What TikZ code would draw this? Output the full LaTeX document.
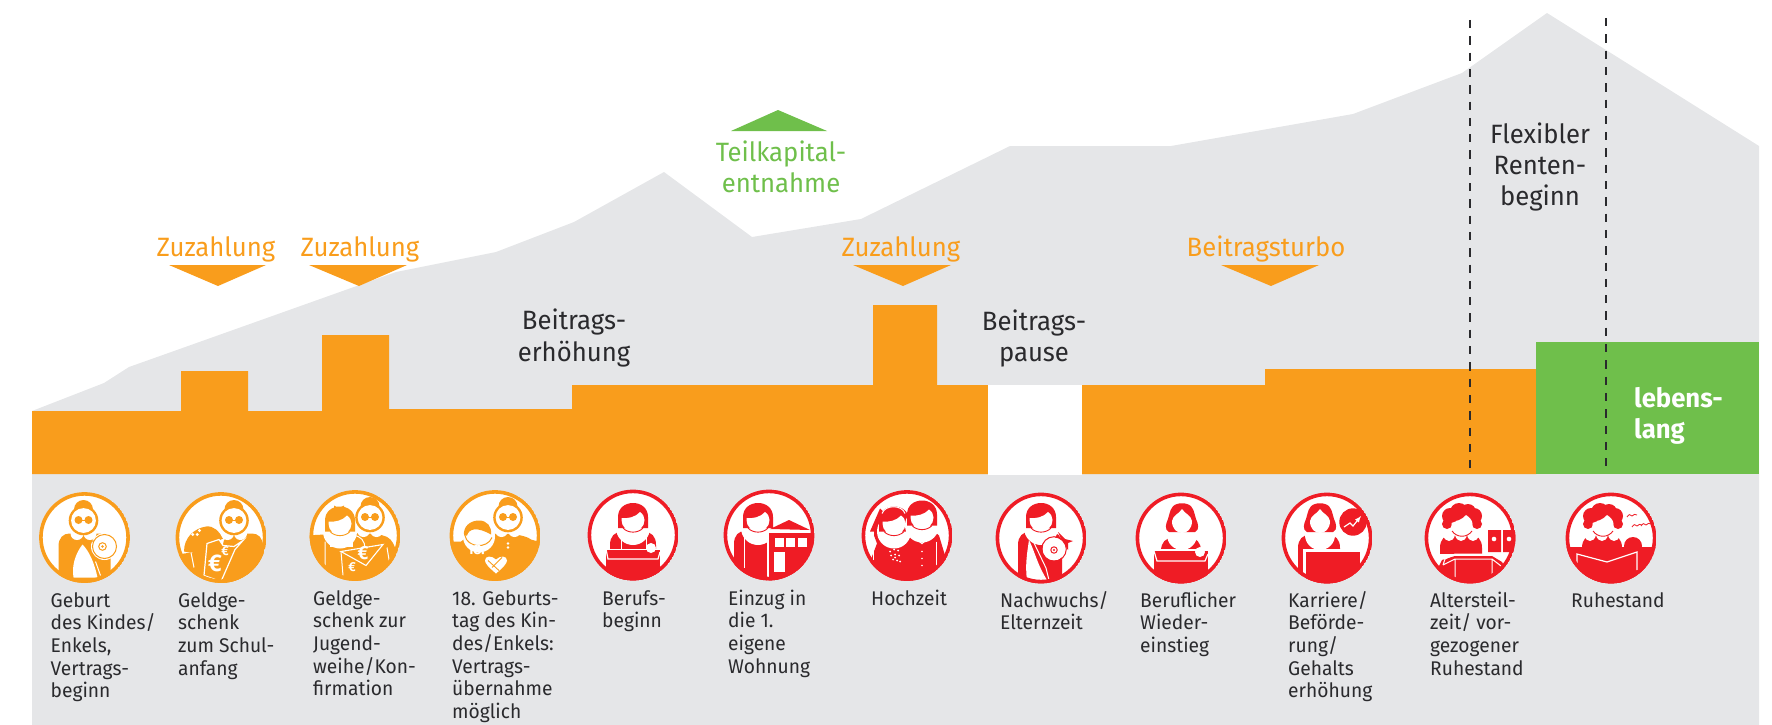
\documentclass[tikz,border=0pt]{standalone}
\usepackage{fontspec}
\setmainfont[FakeStretch=0.97]{Fira Sans}
\definecolor{orangeC}{HTML}{F99D1C}
\definecolor{greenC}{HTML}{6FBF4B}
\definecolor{redC}{HTML}{EF1C25}
\definecolor{grayC}{HTML}{E5E6E8}
\definecolor{inkC}{HTML}{2A2A2D}
\tikzset{
    bigtext/.style={font=\fontsize{26.5}{31.5}\selectfont, align=center, inner sep=0pt, text=inkC},
    captext/.style={font=\fontsize{19.8}{22.7}\selectfont, align=left, inner sep=0pt, anchor=base west, text=inkC},
    whiteline/.style={white, line width=1pt},
    euro/.style={text=white, inner sep=0pt, font=\bfseries\fontsize{#1}{#1}\selectfont},
}
\newcommand{\iconback}{\fill[white] (0,0) circle (45); \clip (0,0) circle (45.4);}
\newcommand{\iconring}{\draw[ic, line width=3.6pt] (0,0) circle (43.6);}
\newcommand{\bodyfill}[3]{% centre x, top y, half width
    \fill[ic] (#1-#3, 60) -- (#1-#3, #2+13) .. controls (#1-#3, #2+4) and (#1-#3+5, #2) .. (#1-#3+11, #2)
        -- (#1+#3-11, #2) .. controls (#1+#3-5, #2) and (#1+#3, #2+4) .. (#1+#3, #2+13) -- (#1+#3, 60) -- cycle;}
\newcommand{\glassface}[2]{%
    \begin{scope}[shift={(#1,#2)}]
        \fill[ic] (0,-11) circle (9.5);
        \fill[white] (-6.5,13) circle (6.5) (6.5,13) circle (6.5);
        \fill[ic] (0,0) circle (14.8);
        \fill[white] (0,0) circle (12.4);
        \fill[ic] (-5,-0.5) circle (4) (5,-0.5) circle (4);
        \draw[ic, line width=1pt] (-5,-0.5) -- (5,-0.5);
    \end{scope}}
\newcommand{\bobface}[2]{%
    \begin{scope}[shift={(#1,#2)}]
        \fill[white] (0,9) circle (17);
        \fill[ic] (-15,9) -- (-15,-2) .. controls (-15,-11) and (-8,-16) .. (0,-16) .. controls (8,-16) and (15,-11) .. (15,-2) -- (15,9) -- cycle;
        \fill[white] (-11.5,-1) .. controls (-6,0) and (3,-2) .. (7,-7) .. controls (10,-5) and (11.5,-2) .. (11.5,1)
            .. controls (11.5,8) and (6,12) .. (0,12) .. controls (-6,12) and (-11.5,8) .. (-11.5,1) -- cycle;
        \draw[ic, line width=0.9pt] (-10,9) .. controls (-5,14.5) and (5,14.5) .. (10,9);
    \end{scope}}
\newcommand{\waveface}[2]{%
    \begin{scope}[shift={(#1,#2)}]
        \fill[white] (0,14) circle (15);
        \fill[ic] (-13,11) .. controls (-18,9) and (-16,2) .. (-14,-2) .. controls (-12,-8) and (-12,-15) .. (-5,-17)
            .. controls (-2,-18) and (2,-18) .. (5,-17) .. controls (12,-15) and (12,-8) .. (14,-2)
            .. controls (16,2) and (18,9) .. (13,11) -- cycle;
        \fill[white] (0,-12) .. controls (-3,-7) and (-9,-6) .. (-10,0) .. controls (-10,8) and (-5,12) .. (0,12)
            .. controls (5,12) and (10,8) .. (10,0) .. controls (9,-6) and (3,-7) .. (0,-12) -- cycle;
    \end{scope}}
\newcommand{\curlyface}[2]{%
    \begin{scope}[shift={(#1,#2)}]
        \foreach \hx/\hy/\hr in {-12/-8/8, 12/-8/8, -3/-12/9, 6/-12/8, -15/0/5, 15/0/5}{
            \fill[ic] (\hx,\hy) circle (\hr);
        }
        \fill[white] (-10.5,-1) .. controls (-5,-3) and (1,-5) .. (4,-9) .. controls (7,-7) and (10.5,-4) .. (10.5,0)
            .. controls (10.5,7) and (5,11) .. (0,11) .. controls (-5,11) and (-10.5,7) .. (-10.5,0) -- cycle;
        \draw[ic, line width=0.9pt] (-10,7) .. controls (-5,14) and (5,14) .. (10,7);
    \end{scope}}
\newcommand{\scallops}[3]{% collar bumps of the older figures
    \foreach \sx in {-18, -6, 6}{
        \fill[white] (#1+\sx,#2) .. controls (#1+\sx+2,#2+#3) and (#1+\sx+10,#2+#3) .. (#1+\sx+12,#2) -- cycle;
    }}
\begin{document}
\begin{tikzpicture}[x=1pt, y=-1pt]
    \useasboundingbox (0,0) rectangle (1772,725);
    \fill[grayC] (32,411) -- (104,383) -- (129,367) -- (160,356) -- (396,272) -- (496,252) -- (574,222)
        -- (664,172) -- (752,237) -- (861,219) -- (1010,146) -- (1171,146) -- (1353,114) -- (1462,73)
        -- (1547,13) -- (1759,146) -- (1759,725) -- (32,725) -- cycle;
    \fill[orangeC] (32,474) -- (32,411) -- (181,411) -- (181,371) -- (248,371) -- (248,411) -- (322,411)
        -- (322,335) -- (389,335) -- (389,409) -- (572,409) -- (572,385) -- (873,385) -- (873,305)
        -- (937,305) -- (937,385) -- (988,385) -- (988,474) -- cycle;
    \fill[orangeC] (1082,474) -- (1082,385) -- (1265,385) -- (1265,369) -- (1536,369) -- (1536,474) -- cycle;
    \fill[white] (988,384.5) rectangle (1082,475);
    \fill[greenC] (1536,342) rectangle (1759,473.5);
    \foreach \xa/\xb/\xt in {169/266/218, 309/407/359, 853/951/903, 1221/1319/1271}{
        \fill[orangeC] (\xa,265) -- (\xb,265) -- (\xt,286) -- cycle;
    }
    \fill[greenC] (731,131) -- (827,131) -- (778,110) -- cycle;

    \coordinate (flexlefttop) at (1470,20);
    \coordinate (flexleftend) at (1470,473);
    \coordinate (flexrighttop) at (1606,18);
    \coordinate (flexrightend) at (1606,473);
    \draw[inkC, line width=1.9pt, dash pattern=on 8.3pt off 8pt] (flexlefttop) -- (flexleftend);
    \draw[inkC, line width=1.9pt, dash pattern=on 8.3pt off 8pt] (flexrighttop) -- (flexrightend);

    \node[bigtext, text=orangeC, anchor=base] (zuzahlungA) at (216,256) {Zuzahlung};
    \node[bigtext, text=orangeC, anchor=base] (zuzahlungB) at (360,256) {Zuzahlung};
    \node[bigtext, text=orangeC, anchor=base] (zuzahlungC) at (901,256) {Zuzahlung};
    \node[bigtext, text=orangeC, anchor=base] (turbo) at (1266,256) {Beitragsturbo};
    \node[bigtext, text=greenC, anchor=base] (teilA) at (781,161) {Teilkapital-};
    \node[bigtext, text=greenC, anchor=base] (teilB) at (781,192) {entnahme};
    \node[bigtext, anchor=base] (erhoehA) at (574,329) {Beitrags-};
    \node[bigtext, anchor=base] (erhoehB) at (574,361) {erhöhung};
    \node[bigtext, anchor=base] (pauseA) at (1034,330) {Beitrags-};
    \node[bigtext, anchor=base] (pauseB) at (1034,361) {pause};
    \node[bigtext, anchor=base] (flexA) at (1540,143) {Flexibler};
    \node[bigtext, anchor=base] (flexB) at (1540,174) {Renten-};
    \node[bigtext, anchor=base] (flexC) at (1540,205) {beginn};
    \node[bigtext, text=white, anchor=base west, font=\bfseries\fontsize{26.5}{31}\selectfont] (lebensA) at (1634,407) {lebens-};
    \node[bigtext, text=white, anchor=base west, font=\bfseries\fontsize{26.5}{31}\selectfont] (lebensB) at (1634,438) {lang};

    \node[captext] (capA) at (50.5,697.8) {Geburt\\des Kindes/\\Enkels,\\Vertrags-\\beginn};
    \node[captext] (capB) at (178,675.1) {Geldge-\\schenk\\zum Schul-\\anfang};
    \node[captext] (capC) at (313,695.8) {Geldge-\\schenk zur\\Jugend-\\weihe/Kon-\\firmation};
    \node[captext] (capD) at (452,718.5) {18. Geburts-\\tag des Kin-\\des/Enkels:\\Vertrags-\\übernahme\\möglich};
    \node[captext] (capE) at (602,627.7) {Berufs-\\beginn};
    \node[captext] (capF) at (728,673.1) {Einzug in\\die 1.\\eigene\\Wohnung};
    \node[captext] (capG) at (871,605) {Hochzeit};
    \node[captext] (capH) at (1000,629.7) {Nachwuchs/\\Elternzeit};
    \node[captext] (capI) at (1140,652.4) {Beruflicher\\Wieder-\\einstieg};
    \node[captext] (capJ) at (1288,697.8) {Karriere/\\Beförde-\\rung/\\Gehalts\\erhöhung};
    \node[captext] (capK) at (1430,675.1) {Altersteil-\\zeit/ vor-\\gezogener\\Ruhestand};
    \node[captext] (capL) at (1571,607) {Ruhestand};

    \begin{scope}[shift={(84.5,537.5)}]
        \colorlet{ic}{orangeC}
        \iconback
        \bodyfill{0}{-4}{26}
        \fill[white] (-2,7) .. controls (-9,16) and (-13,28) .. (-11,40) -- (13,40) .. controls (10,26) and (5,14) .. (-2,7) -- cycle;
        \draw[whiteline] (11,24) -- (16,38);
        \glassface{-1}{-17}
        \fill[white] (20,9) circle (13.5);
        \draw[ic, line width=1pt] (20,9) circle (12);
        \draw[ic, line width=1pt] (18,9) circle (3.8);
        \fill[ic] (18,9) circle (1.3);
        \draw[ic, line width=1pt] (0,8) -- (9,3);
        \iconring
    \end{scope}
    \begin{scope}[shift={(221,537.5)}]
        \colorlet{ic}{orangeC}
        \iconback
        \bodyfill{22}{-4}{20}
        \fill[ic] (-50,18) -- (-30,15) -- (50,15) -- (50,60) -- (-50,60) -- cycle;
        \fill[ic] (-37,14) .. controls (-37,0) and (-27,-9) .. (-15,-11) .. controls (-7,-12) and (-2,-6) .. (2,1)
            -- (-12,8) -- (-14,16) .. controls (-22,15) and (-30,16) .. (-37,14) -- cycle;
        \foreach \fa in {0, 60, ..., 300}{
            \fill[white] (-26,-7) ++(\fa:4.5) circle (1.6);
        }
        \draw[whiteline] (-30,15) -- (-27,30);
        \glassface{13}{-17}
        \fill[ic, draw=white, line width=1.2pt] (-14,6) -- (-2,2) -- (2,8) -- (13,9) -- (22,3) -- (14,12) -- (0,44) -- (-17,38) -- cycle;
        \node[euro=24] (euroB) at (-6,26) {€};
        \node[euro=13] (euroBs) at (4,14) {€};
        \iconring
    \end{scope}
    \begin{scope}[shift={(355,535.5)}]
        \colorlet{ic}{orangeC}
        \iconback
        \fill[ic] (-50,60) -- (-50,0) -- (-30,-1) .. controls (-20,-3) and (20,-3) .. (28,0) .. controls (34,1) and (38,6) .. (40,12) -- (50,60) -- cycle;
        \fill[white] (-25,0) rectangle (-2,11);
        \fill[ic] (-22,0) rectangle (-5,9);
        \draw[whiteline] (-30,6) -- (-30,40) (-14,16) -- (-12,40) (32,12) -- (35,30);
        \draw[whiteline] (-2,0) .. controls (6,0) and (10,6) .. (10,13);
        \bobface{-15}{-13}
        \fill[ic] (-21,-30) -- (-21,-24) -- (-16,-27) -- (-11,-24) -- (-11,-30) -- (-16,-27.5) -- cycle;
        \glassface{15}{-18}
        \fill[ic, draw=white, line width=1.1pt] (-14,16) -- (28,9) -- (11,30) -- cycle;
        \node[euro=19] (euroC) at (8,18) {€};
        \node[euro=13] (euroCs) at (-3,32) {€};
        \iconring
    \end{scope}
    \begin{scope}[shift={(495,535.5)}]
        \colorlet{ic}{orangeC}
        \iconback
        \fill[ic] (-50,60) -- (-50,6) -- (-34,6) .. controls (-25,-3) and (25,-5) .. (36,4) -- (50,8) -- (50,60) -- cycle;
        \fill[white] (-16,1) circle (16);
        \fill[ic] (-16,-15) .. controls (-25,-15) and (-32,-9) .. (-31,0) -- (-28,0) .. controls (-26,-7) and (-18,-9) .. (-4,-1) .. controls (-3,-9) and (-8,-15) .. (-16,-15) -- cycle;
        \draw[ic, line width=1pt] (-30,0) .. controls (-28,12) and (-8,14) .. (-3,2);
        \glassface{13}{-18}
        \fill[white] (13,8) circle (1.4) (13,12) circle (1.4);
        \node[text=white, inner sep=0pt, font=\bfseries\fontsize{14}{14}\selectfont] (eighteen) at (-19,14) {18.};
        \fill[white] (1,38) .. controls (-6,32) and (-10,28) .. (-10,25) .. controls (-10,20) and (-3,20) .. (1,24) .. controls (5,20) and (12,20) .. (12,25) .. controls (12,28) and (8,32) .. (1,38) -- cycle;
        \draw[ic, line width=0.9pt] (-7,25) -- (4,35) (7,22) -- (-3,32);
        \iconring
    \end{scope}
    \begin{scope}[shift={(633,535)}]
        \colorlet{ic}{redC}
        \iconback
        \bodyfill{0}{-3}{23}
        \draw[whiteline] (-12,-3) -- (-12,14) (13,-3) -- (13,14);
        \bobface{0}{-16}
        \fill[white] (-30,14) rectangle (30,17);
        \fill[ic] (-27,15) -- (27,15) -- (27,60) -- (-27,60) -- cycle;
        \draw[whiteline, line width=1.2pt] (-27,14) -- (-25,24) -- (25,24) -- (27,17);
        \fill[white] (18,13) circle (5);
        \iconring
    \end{scope}
    \begin{scope}[shift={(769,535)}]
        \colorlet{ic}{redC}
        \iconback
        \bodyfill{-13}{-4}{22}
        \draw[whiteline] (-25,-3) -- (-25,33);
        \bobface{-11}{-16}
        \fill[ic] (1,-6) -- (20,-15) -- (41,-5) -- cycle;
        \fill[ic] (-1,-2) rectangle (50,60);
        \draw[whiteline, line width=1.2pt] (-1,60) -- (-1,-3) -- (50,-3);
        \foreach \wx in {5.5, 17, 29}{
            \fill[white] (\wx,3.3) rectangle (\wx+9,12);
        }
        \fill[white] (5,17) rectangle (16,37);
        \iconring
    \end{scope}
    \begin{scope}[shift={(907,535.5)}]
        \colorlet{ic}{redC}
        \iconback
        \fill[ic] (-27,-27) -- (-37,-4) -- (-33,-4) -- (-33,0) -- (-30,8) -- (-50,60) -- (50,60) -- (32,0) -- (26,-5) -- (12,-8) -- (-4,-6) -- cycle;
        \bobface{-13}{-13}
        \draw[whiteline] (-25,-22) .. controls (-22,-31) and (-5,-31) .. (-2,-22);
        \bobface{15}{-19}
        \draw[white, line width=1.2pt] (2,-2) -- (15,8) -- (28,-3);
        \fill[white] (8,-3) -- (15,0) -- (22,-3) -- (15,3) -- cycle;
        \foreach \nx in {-22, -18, -14, -10, -6}{
            \fill[white] (\nx,-1+0.08*\nx*\nx/4) circle (0.9);
        }
        \foreach \dx/\dy in {-17/16, -13/14, -9/15, -16/20, -12/19, -8/20, -14/24, -10/25, -7/26, -12/22}{
            \fill[white] (\dx,\dy) circle (1);
        }
        \foreach \by in {16, 23, 30}{
            \fill[white] (15,\by) circle (0.9);
        }
        \draw[whiteline] (29,6) -- (29,30) (-34,4) -- (-34,24);
        \iconring
    \end{scope}
    \begin{scope}[shift={(1041,538)}]
        \colorlet{ic}{redC}
        \iconback
        \bodyfill{-1}{-6}{22}
        \fill[white] (-12,2) .. controls (-14,15) and (-16,28) .. (-14,42) -- (6,42) .. controls (-4,26) and (-6,14) .. (-12,2) -- cycle;
        \fill[ic] (0,18) -- (21,22) -- (8,42) -- cycle;
        \draw[whiteline] (-7,5) -- (5,30) (5,30) -- (8,42);
        \bobface{0}{-19}
        \fill[ic] (24,1) -- (17,-6) -- (20,1) -- (14,3) -- (23,6) -- (27,12) -- (27,5) -- (32,3) -- cycle;
        \fill[white] (13,11) circle (11.5);
        \draw[ic, line width=1pt] (13,11) circle (12.3);
        \draw[ic, line width=1pt] (13,12) circle (3.2);
        \fill[ic] (13,12) circle (1.1);
        \iconring
    \end{scope}
    \begin{scope}[shift={(1181,538)}]
        \colorlet{ic}{redC}
        \iconback
        \bodyfill{0}{0}{20}
        \waveface{1}{-17}
        \fill[white] (-30,11) rectangle (30,15);
        \fill[ic] (-27,13) -- (27,13) -- (27,60) -- (-27,60) -- cycle;
        \draw[whiteline, line width=1.2pt] (-27,13) -- (-24,23) -- (24,23) -- (27,16);
        \fill[white] (19,14) circle (5);
        \iconring
    \end{scope}
    \begin{scope}[shift={(1327,538)}]
        \colorlet{ic}{redC}
        \iconback
        \bodyfill{-8}{-3}{21}
        \waveface{-7}{-17}
        \fill[white] (-24,11) rectangle (36,14);
        \fill[white] (-24,11) rectangle (-21,50);
        \fill[ic] (-21,14) rectangle (33,60);
        \draw[whiteline] (-22,13) -- (-22,40);
        \fill[ic] (26,-16) circle (13.7);
        \draw[white, line width=1.2pt, -latex] (17,-11) -- (23,-15) -- (26,-12) -- (34,-22);
        \iconring
    \end{scope}
    \begin{scope}[shift={(1470,538)}]
        \colorlet{ic}{redC}
        \iconback
        \bodyfill{-9}{-3}{21}
        \scallops{-9}{-3}{8}
        \curlyface{-8}{-14}
        \fill[ic] (18,-8) rectangle (31,14) (33,-8) rectangle (50,14);
        \fill[white] (24,1) circle (2.3) (39,1) circle (2.3);
        \fill[white] (-32,16) rectangle (30,60);
        \fill[ic] (-50,60) -- (-32,30) -- (-28,22) -- (-15,18) -- (22,18) -- (32,24) -- (50,60) -- cycle;
        \draw[whiteline] (-27,27) -- (-25,21) -- (-15,16) -- (22,16) -- (30,20) (-27,27) -- (-15,21) -- (22,21) -- (31,28) (-15,21) -- (-15,42) (22,21) -- (22,42);
        \iconring
    \end{scope}
    \begin{scope}[shift={(1611,538)}]
        \colorlet{ic}{redC}
        \iconback
        \fill[ic] (-50,9) rectangle (50,60);
        \fill[ic] (22,8) circle (9);
        \bodyfill{-9}{-3}{20}
        \scallops{-9}{-3}{8}
        \curlyface{-8}{-14}
        \draw[white, line width=1.2pt] (-34,32) -- (-34,16) -- (-4,24) -- (26,14) -- (26,32);
        \foreach \bx/\by in {16/-21, 21/-11, 30/-12}{
            \draw[ic, line width=0.8pt] (\bx,\by) .. controls (\bx+2,\by-3) and (\bx+3,\by-3) .. (\bx+5,\by-1) .. controls (\bx+7,\by-3) and (\bx+8,\by-3) .. (\bx+10,\by-2);
        }
        \iconring
    \end{scope}
\end{tikzpicture}
\end{document}
